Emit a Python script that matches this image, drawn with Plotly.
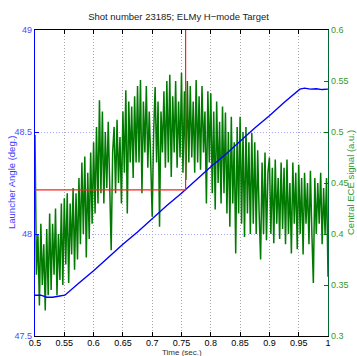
import numpy as np
import plotly.graph_objects as go

# ---- data ----
title_text = "Shot number 23185; ELMy H\u2212mode Target"

# Launcher angle (deg.)
angle_t = [0.50, 0.51, 0.52, 0.53, 0.54, 0.551, 0.575, 0.60, 0.625, 0.65, 0.675, 0.70,
           0.725, 0.75, 0.775, 0.80, 0.825, 0.85, 0.875, 0.90, 0.925, 0.952, 0.96,
           0.97, 0.98, 0.99, 1.0]
angle_v = [47.70, 47.70, 47.69, 47.69, 47.695, 47.70, 47.76, 47.82, 47.885, 47.95, 48.01,
           48.075, 48.14, 48.20, 48.265, 48.33, 48.39, 48.455, 48.52, 48.58, 48.645,
           48.71, 48.715, 48.71, 48.712, 48.708, 48.71]

# Central ECE signal (a.u.), sampled every 2.5 ms from 0.5 s to 1.0 s
ece_v = [
    0.497, 0.36, 0.40, 0.33, 0.41, 0.35, 0.39, 0.325, 0.405, 0.34,
    0.42, 0.345, 0.41, 0.36, 0.425, 0.34, 0.40, 0.355, 0.43, 0.35,
    0.435, 0.37, 0.44, 0.352, 0.43, 0.38, 0.445, 0.365, 0.44, 0.375,
    0.455, 0.39, 0.47, 0.40, 0.476, 0.377, 0.46, 0.395, 0.48, 0.41,
    0.49, 0.42, 0.505, 0.43, 0.531, 0.44, 0.52, 0.43, 0.50, 0.445,
    0.51, 0.43, 0.384, 0.48, 0.505, 0.44, 0.512, 0.45, 0.495, 0.43,
    0.52, 0.46, 0.541, 0.42, 0.53, 0.47, 0.525, 0.455, 0.535, 0.47,
    0.545, 0.47, 0.551, 0.44, 0.53, 0.48, 0.545, 0.465, 0.52, 0.47,
    0.417, 0.50, 0.544, 0.47, 0.53, 0.407, 0.52, 0.48, 0.54, 0.465,
    0.55, 0.47, 0.556, 0.456, 0.535, 0.48, 0.55, 0.465, 0.53, 0.475,
    0.558, 0.46, 0.54, 0.453, 0.55, 0.47, 0.545, 0.475, 0.53, 0.46,
    0.551, 0.47, 0.535, 0.463, 0.545, 0.48, 0.52, 0.43, 0.54, 0.47,
    0.538, 0.44, 0.52, 0.424, 0.53, 0.45, 0.51, 0.43, 0.525, 0.44,
    0.519, 0.42, 0.50, 0.407, 0.515, 0.43, 0.49, 0.381, 0.505, 0.42,
    0.515, 0.41, 0.50, 0.397, 0.505, 0.42, 0.49, 0.40, 0.499, 0.41,
    0.49, 0.40, 0.482, 0.42, 0.375, 0.47, 0.40, 0.48, 0.394, 0.46,
    0.475, 0.40, 0.465, 0.391, 0.473, 0.41, 0.455, 0.395, 0.47, 0.405,
    0.465, 0.39, 0.473, 0.40, 0.45, 0.381, 0.47, 0.41, 0.46, 0.385,
    0.468, 0.40, 0.455, 0.38, 0.46, 0.41, 0.45, 0.39, 0.462, 0.40,
    0.352, 0.455, 0.40, 0.45, 0.41, 0.46, 0.39, 0.445, 0.40, 0.455,
    0.358,
]
ece_t = np.linspace(0.5, 1.0, len(ece_v))

# Target marker (red lines)
target_t = 0.757
target_angle = 48.216

x_ticks = [0.5, 0.55, 0.6, 0.65, 0.7, 0.75, 0.8, 0.85, 0.9, 0.95, 1.0]
left_ticks = [47.5, 48, 48.5, 49]
right_ticks = [0.3, 0.35, 0.4, 0.45, 0.5, 0.55, 0.6]

FONT = "Liberation Sans, Arial, sans-serif"
BLUE = "#0000ff"
GREEN = "#007a00"

fig = go.Figure()
fig.add_trace(go.Scatter(x=ece_t, y=ece_v, mode="lines", yaxis="y",
                         line=dict(color=GREEN, width=1.5), showlegend=False))
fig.add_trace(go.Scatter(x=angle_t, y=angle_v, mode="lines", yaxis="y2",
                         line=dict(color=BLUE, width=1.4), showlegend=False))
fig.add_trace(go.Scatter(x=[0.5, target_t, target_t], y=[target_angle, target_angle, 49],
                         mode="lines", yaxis="y2",
                         line=dict(color="#ff2020", width=1.2), showlegend=False))

fig.update_layout(
    template="none",
    width=357, height=356,
    margin=dict(l=35, r=29, t=30, b=20),
    paper_bgcolor="white", plot_bgcolor="white",
    font=dict(family=FONT, size=9, color="black"),
    title=dict(text=title_text, x=0.5, xanchor="center", y=1 - 17 / 356, yanchor="middle",
               yref="container", font=dict(size=9.5, color="#222222")),
    xaxis=dict(range=[0.5, 1.0], tickvals=x_ticks,
               ticktext=[f"{v:g}" for v in x_ticks],
               ticks="inside", ticklen=4, tickcolor="black",
               showline=True, linecolor="black", linewidth=1.2, mirror="ticks",
               showgrid=True, gridcolor="#a8a8a8", griddash="1px,2px", gridwidth=1,
               zeroline=False, tickfont=dict(size=9, color="black"),
               ticklabelstandoff=-2),
    yaxis=dict(range=[0.3, 0.6], tickvals=right_ticks,
               ticktext=[f"{v:g}" for v in right_ticks],
               side="right", ticks="inside", ticklen=4, tickcolor=GREEN,
               showline=True, linecolor="#006633", linewidth=1.2,
               showgrid=False, zeroline=False,
               tickfont=dict(size=9, color="#2f9a2f")),
    yaxis2=dict(range=[47.5, 49], tickvals=left_ticks,
                ticktext=[f"{v:g}" for v in left_ticks],
                overlaying="y", side="left", ticks="inside", ticklen=4, tickcolor=BLUE,
                showline=True, linecolor=BLUE, linewidth=1.2,
                showgrid=True, gridcolor="#a8a8ff", griddash="1px,2px", gridwidth=1,
                zeroline=False, tickfont=dict(size=9, color="#4a4aff")),
    annotations=[
        dict(text="Time (sec.)", xref="paper", yref="paper", x=0.5, y=-(352.5 - 336) / 306,
             xanchor="center", yanchor="middle", showarrow=False,
             font=dict(size=8, color="#333333")),
        dict(text="Launcher Angle (deg.)", xref="paper", yref="paper",
             x=(11 - 35) / 293, y=0.5, textangle=-90, xanchor="center", yanchor="middle",
             showarrow=False, font=dict(size=9.5, color="#3a3aff")),
        dict(text="Central ECE signal (a.u.)", xref="paper", yref="paper",
             x=(350 - 35) / 293, y=0.5, textangle=-90, xanchor="center", yanchor="middle",
             showarrow=False, font=dict(size=9.5, color="#2f9a2f")),
    ],
)

fig.write_html("out.html")
